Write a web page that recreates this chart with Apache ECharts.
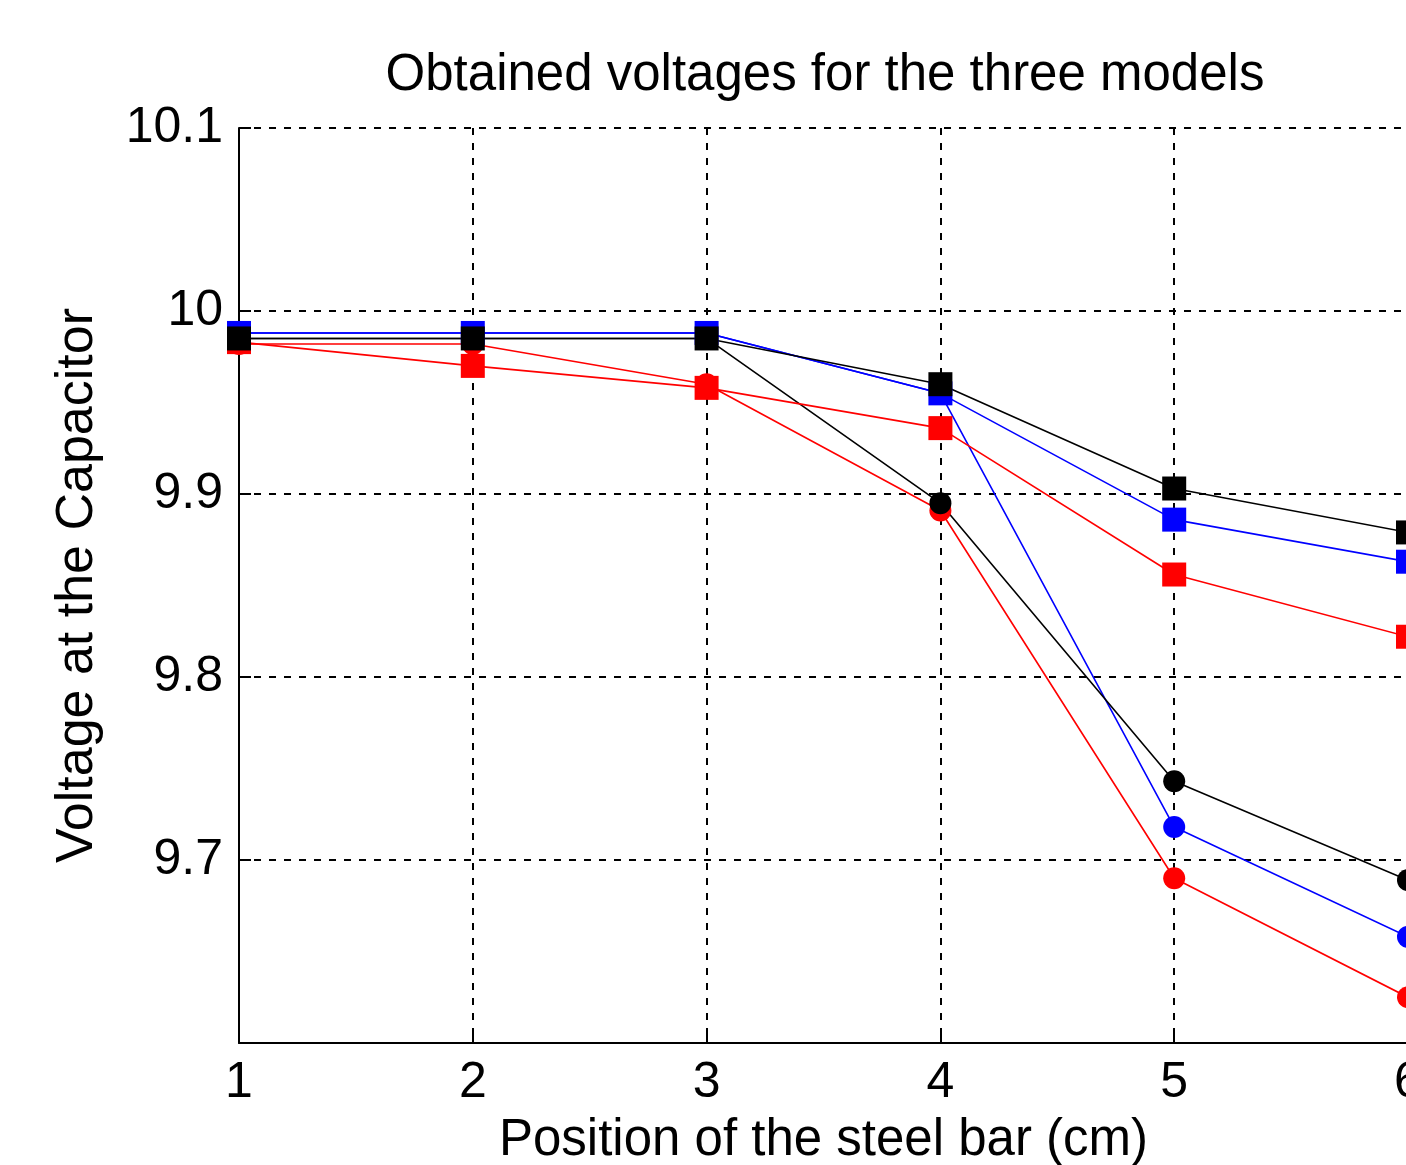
<!DOCTYPE html>
<html>
<head>
<meta charset="utf-8">
<script src="https://cdn.jsdelivr.net/npm/echarts@6/dist/echarts.min.js"></script>
<style>
  html, body { margin: 0; padding: 0; background: #fff; }
  #chart { width: 1406px; height: 1165px; }
</style>
</head>
<body>
<div id="chart"></div>
<script>
// steel bar positions (cm)
const positions = [1, 2, 3, 4, 5, 6];

// square-marker curves
const blackSquares = [9.985, 9.985, 9.985, 9.960, 9.903, 9.879];
const blueSquares  = [9.988, 9.988, 9.988, 9.955, 9.886, 9.863];
const redSquares   = [9.983, 9.970, 9.958, 9.936, 9.856, 9.822];

// circle-marker curves
const blackCircles = [9.985, 9.985, 9.985, 9.895, 9.743, 9.689];
const blueCircles  = [9.988, 9.988, 9.988, 9.955, 9.718, 9.658];
const redCircles   = [9.982, 9.982, 9.960, 9.891, 9.690, 9.625];

const chart = echarts.init(document.getElementById('chart'));

const font = 'Liberation Sans, Arial, sans-serif';
const gridLine = { lineStyle: { color: '#000', type: [7, 8], width: 2 } };

const pairs = vals => positions.map((x, i) => [x, vals[i]]);

const makeSeries = (name, vals, color, symbol, size) => ({
  name,
  type: 'line',
  data: pairs(vals),
  symbol,
  symbolSize: size,
  showSymbol: true,
  lineStyle: { color, width: 1.6 },
  itemStyle: { color },
  clip: false,
  animation: false,
});

const option = {
  animation: false,
  title: {
    text: 'Obtained voltages for the three models',
    left: 820,
    textAlign: 'center',
    top: 45,
    textStyle: { fontFamily: font, fontWeight: 'normal', fontSize: 51, color: '#000' },
  },
  grid: { left: 239, top: 128, right: -2, bottom: 122, outerBoundsMode: 'none', containLabel: false },
  xAxis: {
    type: 'value',
    min: 1,
    max: 6,
    interval: 1,
    name: 'Position of the steel bar (cm)',
    nameLocation: 'middle',
    nameGap: 72,
    nameMoveOverlap: false,
    nameTextStyle: { fontFamily: font, fontSize: 51, color: '#000' },
    axisLine: { show: true, lineStyle: { color: '#000', width: 2 } },
    axisTick: { show: true, inside: true, length: 12, lineStyle: { color: '#000', width: 2 } },
    axisLabel: { fontFamily: font, fontSize: 50, color: '#000', margin: 15 },
    splitLine: { show: true, ...gridLine },
  },
  yAxis: {
    type: 'value',
    min: 9.6,
    max: 10.1,
    interval: 0.1,
    name: 'Voltage at the Capacitor',
    nameLocation: 'middle',
    nameGap: 135,
    nameMoveOverlap: false,
    nameTextStyle: { fontFamily: font, fontSize: 52, color: '#000' },
    axisLine: { show: true, lineStyle: { color: '#000', width: 2 } },
    axisTick: { show: true, inside: true, length: 12, lineStyle: { color: '#000', width: 2 } },
    axisLabel: {
      fontFamily: font, fontSize: 50, color: '#000', margin: 16,
      formatter: v => (Math.abs(v - 9.6) < 1e-6 ? '' : String(Math.round(v * 10) / 10)),
    },
    splitLine: { show: true, ...gridLine },
  },
  series: [
    makeSeries('red circles', redCircles, '#ff0000', 'circle', 22),
    makeSeries('blue circles', blueCircles, '#0000ff', 'circle', 22),
    makeSeries('black circles', blackCircles, '#000000', 'circle', 22),
    makeSeries('red squares', redSquares, '#ff0000', 'rect', 24),
    makeSeries('blue squares', blueSquares, '#0000ff', 'rect', 24),
    makeSeries('black squares', blackSquares, '#000000', 'rect', 24),
  ],
};

chart.setOption(option);
window.addEventListener('resize', () => chart.resize());
</script>
</body>
</html>
